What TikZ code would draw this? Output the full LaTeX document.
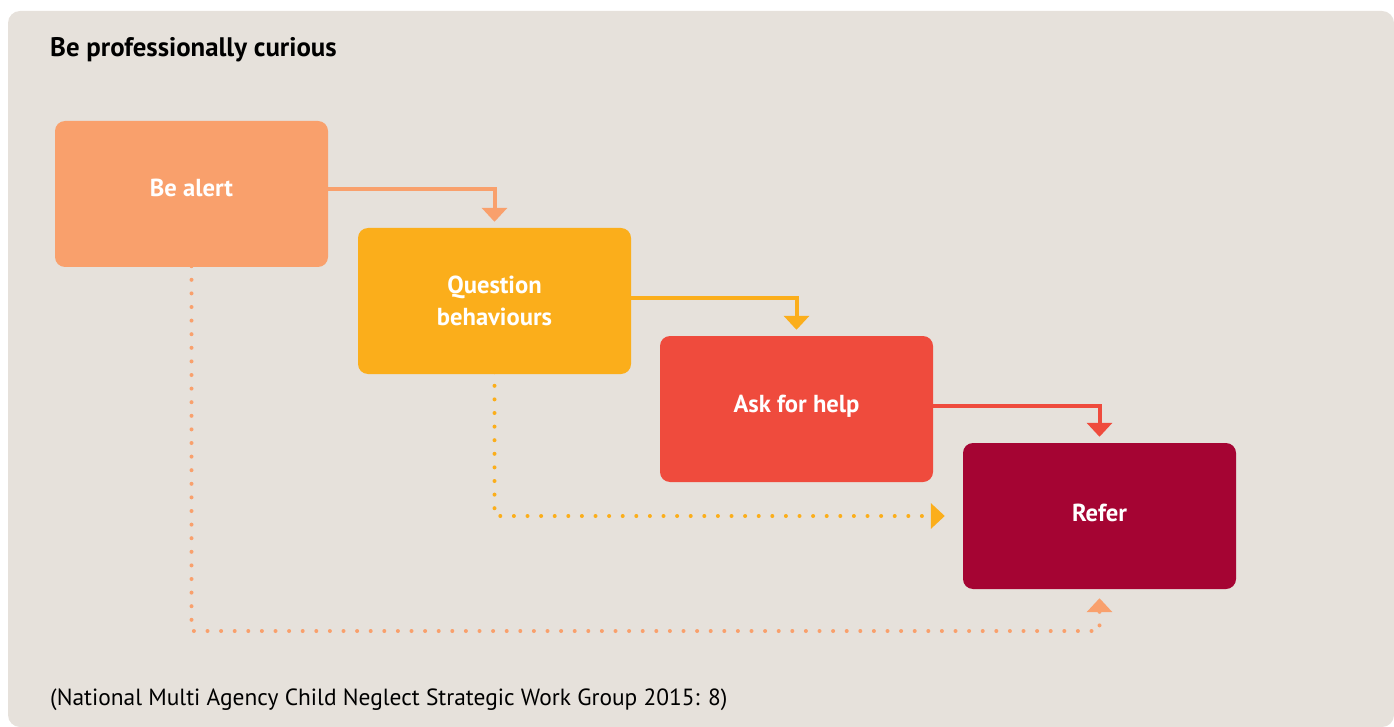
\documentclass[tikz,border=0pt]{standalone}
\usepackage{fontspec}
\setmainfont{PT Sans}
\usetikzlibrary{positioning,arrows.meta}

\definecolor{bgcol}{HTML}{E6E1DB}
\definecolor{alertcol}{HTML}{F9A06C}
\definecolor{questcol}{HTML}{FBAE1B}
\definecolor{helpcol}{HTML}{EF4B3D}
\definecolor{refercol}{HTML}{A50433}

\begin{document}
\begin{tikzpicture}[x=1pt,y=-1pt,
    stepbox/.style={rounded corners=10pt, minimum width=273pt, minimum height=146pt,
      inner sep=0pt, text=white, align=center, font=\fontsize{24.6}{32}\selectfont\bfseries},
    flow/.style={line width=4pt, -{Triangle[width=25pt,length=14pt]}, shorten >=6pt},
    dots/.style={line width=4pt, line cap=round, dash pattern=on 0pt off 13.6pt,
      -{Triangle[width=25pt,length=14pt]}}]
  \useasboundingbox (0,0) rectangle (1394,727);
  % Sfondo
  \fill[bgcol, rounded corners=12pt] (8,11) rectangle (1394,727);

  % Titolo
  \node[anchor=base west, inner sep=0pt, font=\fontsize{26.8}{30}\selectfont\bfseries] (title) at (50,57) {Be professionally curious};

  % Passi
  \node[stepbox, fill=alertcol, text height=18pt, text depth=12pt] (alert) at (191.5,194) {Be alert};
  \node[stepbox, fill=questcol] (question) at (494.5,301) {Question\\behaviours};
  \node[stepbox, fill=helpcol, text height=18pt, text depth=12pt] (help) at (796.5,409) {Ask for help};
  \node[stepbox, fill=refercol, text height=18pt, text depth=8pt] (refer) at (1099.5,516) {Refer};

  % Frecce
  \draw[flow, alertcol] ([yshift=5pt]alert.east) -| (question.north);
  \draw[flow, questcol] ([yshift=3pt]question.east) -| (help.north);
  \draw[flow, helpcol] ([yshift=3pt]help.east) -| (refer.north);

  % Scorciatoie
  \coordinate (shortcut) at (0,631);
  \draw[dots, alertcol, shorten >=9pt] ([yshift=1pt]alert.south) -- (alert.south |- shortcut) -| (refer.south);
  \draw[dots, questcol, shorten >=18pt] ([yshift=2pt]question.south) |- (refer.west);

  % Fonte
  \node[anchor=base west, inner sep=0pt, font=\fontsize{23.4}{28}\selectfont] (source) at (50,705) {(National Multi Agency Child Neglect Strategic Work Group 2015: 8)};
\end{tikzpicture}
\end{document}
